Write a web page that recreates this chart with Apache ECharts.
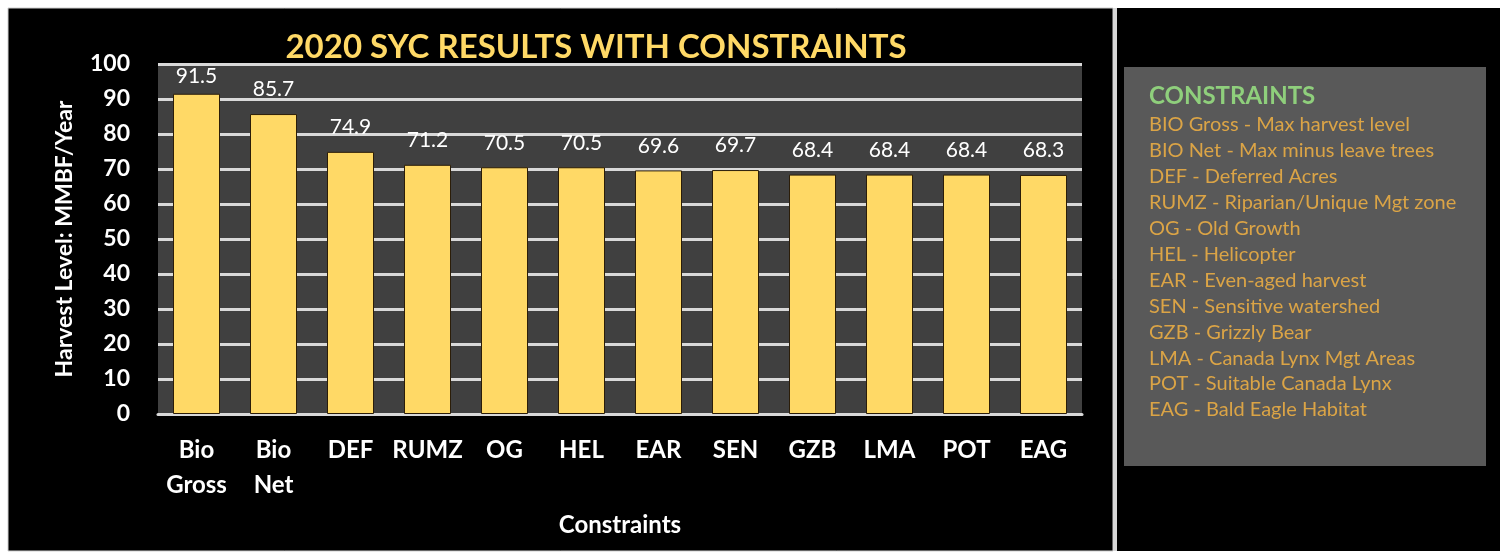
<!DOCTYPE html>
<html>
<head>
<meta charset="utf-8">
<script src="https://cdn.jsdelivr.net/npm/echarts@6/dist/echarts.min.js"></script>
<style>
  html, body { margin: 0; padding: 0; background: #fff; }
  #main { width: 1512px; height: 554px; }
</style>
</head>
<body>
<div id="main"></div>
<script>
// chart data
var categories = ["Bio\nGross", "Bio\nNet", "DEF", "RUMZ", "OG", "HEL", "EAR", "SEN", "GZB", "LMA", "POT", "EAG"];
var harvestLevel = [91.5, 85.7, 74.9, 71.2, 70.5, 70.5, 69.6, 69.7, 68.4, 68.4, 68.4, 68.3];
var legendTitle = "CONSTRAINTS";
var legendLines = [
  "BIO Gross - Max harvest level",
  "BIO Net - Max minus leave trees",
  "DEF - Deferred Acres",
  "RUMZ - Riparian/Unique Mgt zone",
  "OG - Old Growth",
  "HEL - Helicopter",
  "EAR - Even-aged harvest",
  "SEN - Sensitive watershed",
  "GZB - Grizzly Bear",
  "LMA - Canada Lynx Mgt Areas",
  "POT - Suitable Canada Lynx",
  "EAG - Bald Eagle Habitat"
];

var font = "Lato, 'Open Sans', sans-serif";
var myChart = echarts.init(document.getElementById("main"));

// black panels + legend box on the right
var graphics = [
  { type: "rect", z: -10, shape: { x: 8, y: 8, width: 1105, height: 543 },
    style: { fill: "#000", stroke: "#cfcfcf", lineWidth: 1 } },
  { type: "rect", z: -10, shape: { x: 1113, y: 8, width: 4, height: 543 },
    style: { fill: "#d8d8d8" } },
  { type: "rect", z: -10, shape: { x: 1117, y: 8, width: 383, height: 543 },
    style: { fill: "#000" } },
  { type: "rect", z: -5, shape: { x: 1124, y: 67, width: 362, height: 399 },
    style: { fill: "#595959" } },
  { type: "text", left: 1149, top: 84, z: 5,
    style: { text: legendTitle, fill: "#8fcf7c", font: "bold 24px " + font } }
];
legendLines.forEach(function (t, i) {
  graphics.push({
    type: "text", left: 1149, top: 115 + i * 25.9, z: 5,
    style: { text: t, fill: "#dba446", font: "20px " + font }
  });
});

// first label sits a bit closer to its bar (below the top gridline)
var barData = harvestLevel.map(function (v, i) {
  return i === 0 ? { value: v, label: { distance: 7 } } : v;
});

var option = {
  backgroundColor: "#fff",
  animation: false,
  title: {
    text: "2020 SYC RESULTS WITH CONSTRAINTS",
    left: 591,
    textAlign: "center",
    top: 26,
    textStyle: { color: "#ffd966", fontFamily: font, fontWeight: "bold", fontSize: 33 }
  },
  graphic: graphics,
  grid: {
    left: 158,
    right: 430,
    top: 64,
    bottom: 140,
    show: true,
    backgroundColor: "#404040",
    borderWidth: 0
  },
  xAxis: {
    type: "category",
    data: categories,
    name: "Constraints",
    nameLocation: "middle",
    nameGap: 99,
    nameTextStyle: { color: "#fff", fontFamily: font, fontWeight: "bold", fontSize: 24 },
    axisLine: { show: true, lineStyle: { color: "#d9d9d9", width: 3 } },
    axisTick: { show: false },
    axisLabel: {
      color: "#fff", fontFamily: font, fontWeight: "bold", fontSize: 24,
      lineHeight: 35, margin: 19, verticalAlign: "top", interval: 0
    }
  },
  yAxis: {
    type: "value",
    min: 0,
    max: 100,
    interval: 10,
    name: "Harvest Level: MMBF/Year",
    nameLocation: "middle",
    nameGap: 82,
    nameTextStyle: { color: "#fff", fontFamily: font, fontWeight: "bold", fontSize: 23 },
    axisLine: { show: false },
    axisTick: { show: false },
    axisLabel: { color: "#fff", fontFamily: font, fontWeight: "bold", fontSize: 23, margin: 28 },
    splitLine: { lineStyle: { color: "#d9d9d9", width: 3 } }
  },
  series: [
    {
      type: "bar",
      data: barData,
      barWidth: 47,
      itemStyle: { color: "#ffd966", borderColor: "#2b1d08", borderWidth: 1 },
      label: {
        show: true,
        position: "top",
        distance: 14,
        color: "#fff",
        fontFamily: font,
        fontWeight: "normal",
        fontSize: 21
      }
    }
  ]
};

myChart.setOption(option);
</script>
</body>
</html>
